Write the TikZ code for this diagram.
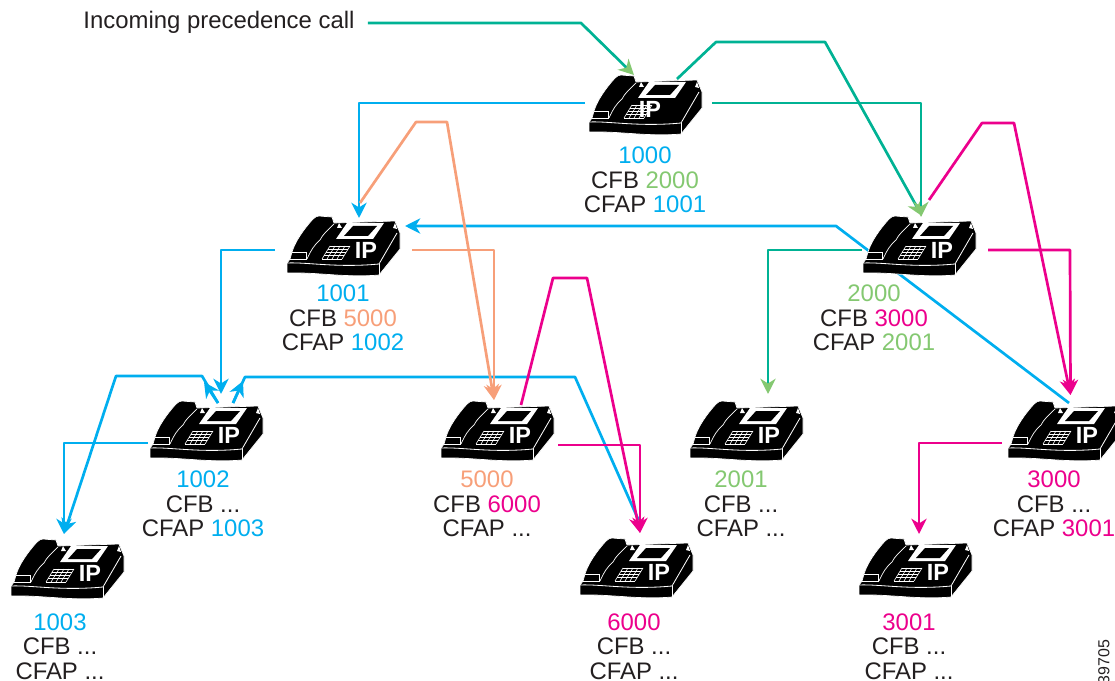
\documentclass[tikz,border=0pt]{standalone}
\usepackage{fontspec}
\setmainfont{Liberation Sans}
\usetikzlibrary{arrows.meta}
\definecolor{callblue}{HTML}{00AEEF}
\definecolor{callteal}{HTML}{00B294}
\definecolor{callpink}{HTML}{EC008C}
\definecolor{callsalmon}{HTML}{F79F79}
\definecolor{callgreen}{HTML}{84C871}
\definecolor{labelgray}{HTML}{231F20}
\newcommand{\numb}[1]{\textcolor{callblue}{#1}}
\newcommand{\numg}[1]{\textcolor{callgreen}{#1}}
\newcommand{\nump}[1]{\textcolor{callpink}{#1}}
\newcommand{\nums}[1]{\textcolor{callsalmon}{#1}}
\tikzset{
  pics/phonepic/.style={code={
    \begin{scope}[shift={(-56.5,-30)}]
    \fill[black, draw=white, line width=0.6pt] (26,3) .. controls (28,1) and (30,0) .. (32,0) -- (45,1) -- (47,7) -- (108,5) -- (113,17) -- (113,33) -- (92,59)
      .. controls (60,62) and (30,56) .. (0,57) -- (0,47) -- (3,43) -- (5,36) .. controls (8,26) and (16,14) .. (26,3) -- cycle;
    \fill[white] (60,7) -- (97,7) -- (86,23) -- (49,23) -- cycle;
    \fill[black] (66,10) -- (90,10) -- (81,20) -- (57,20) -- cycle;
    \fill[white] (50,12) -- (52,7) -- (55,12) -- cycle;
    \fill[white] (106,12) -- (108,7) -- (110,13) -- cycle;
    \draw[white, line width=0.6pt] (47,8) .. controls (40,15) and (36,18) .. (33,24) .. controls (28,28) and (24,34) .. (20,43);
    \draw[white, line width=0.6pt] (5,36) -- (19,36) -- (19,43) -- (3,43);
    \draw[white, line width=0.7pt] (0,47) .. controls (20,46) and (50,52) .. (92,48) -- (110,17);
    \draw[white, line width=0.7pt] (92,48) -- (92,59);
    \foreach \t in {0,0.25,0.5,0.75,1} {
      \draw[white, line width=0.5pt] ({35+8*\t},{43-13*\t}) -- ({55+8*\t},{43-13*\t});
      \draw[white, line width=0.5pt] ({35+20*\t},43) -- ({43+20*\t},30);
    }
    \node[text=white, inner sep=0, font=\fontsize{20}{20}\selectfont\bfseries] (ip) at (#1,34) {IP};
    \end{scope}
  }}
}
\begin{document}
\begin{tikzpicture}[x=0.03cm, y=-0.03cm,
    phone/.style={minimum width=3.39cm, minimum height=1.8cm, inner sep=0, outer sep=0},
    lbl/.style={align=center, inner sep=0, text=labelgray, font=\fontsize{20.4}{20.8}\selectfont},
    blueline/.style={draw=callblue, line width=2.3pt, line join=round, -{Stealth[length=13pt, width=13pt, inset=4pt]}},
    tealline/.style={draw=callteal, line width=2.3pt, line join=round, -{Stealth[length=13pt, width=13pt, inset=4pt, color=callgreen]}},
    pinkline/.style={draw=callpink, line width=2.3pt, line join=round, -{Stealth[length=13pt, width=13pt, inset=4pt]}},
    salmonline/.style={draw=callsalmon, line width=2.3pt, line join=round, -{Stealth[length=13pt, width=13pt, inset=4pt]}}]
    \path[use as bounding box, clip] (0,0) rectangle (1115,681);

    %Nodes
    \foreach \name/\x/\y in {p1000/645.5/105, p1001/343.5/246, p2000/919.5/246, p1002/206.5/431, p5000/497.5/431,
        p2001/746.5/431, p3000/1064.5/431, p1003/67.5/569, p6000/636.5/568, p3001/915.5/568}
      \node[phone] at (\x, \y) (\name) {};

    \node[lbl] at (219, 22) (incoming) {Incoming precedence call};
    \node[lbl] at (645, 180) (l1000) {\numb{1000}\\CFB \numg{2000}\\CFAP \numb{1001}};
    \node[lbl] at (343, 318) (l1001) {\numb{1001}\\CFB \nums{5000}\\CFAP \numb{1002}};
    \node[lbl] at (874, 318) (l2000) {\numg{2000}\\CFB \nump{3000}\\CFAP \numg{2001}};
    \node[lbl] at (203, 504) (l1002) {\numb{1002}\\CFB ...\\CFAP \numb{1003}};
    \node[lbl] at (487, 504) (l5000) {\nums{5000}\\CFB \nump{6000}\\CFAP ...};
    \node[lbl] at (741, 504) (l2001) {\numg{2001}\\CFB ...\\CFAP ...};
    \node[lbl] at (1054, 504) (l3000) {\nump{3000}\\CFB ...\\CFAP \nump{3001}};
    \node[lbl] at (60, 646.5) (l1003) {\numb{1003}\\CFB ...\\CFAP ...};
    \node[lbl] at (634, 646.5) (l6000) {\nump{6000}\\CFB ...\\CFAP ...};
    \node[lbl] at (909, 646.5) (l3001) {\nump{3001}\\CFB ...\\CFAP ...};
    \node[rotate=90, inner sep=0, text=labelgray, font=\fontsize{13.6}{14}\selectfont] at (1104, 662) (figno) {39705};

    %Lines
    \draw[tealline] ([shift={(13,1)}]incoming.east) -- (581, 23) -- ([shift={(-11.5,0)}]p1000.north);
    \draw[tealline] ([shift={(31.5,4)}]p1000.north) -- (716, 42) -- (825, 42) -- ([shift={(2.5,0)}]p2000.north);
    \draw[tealline] ([shift={(10,-2)}]p1000.east) -- (921, 103) -- ([shift={(1.5,1)}]p2000.north);
    \draw[tealline] ([shift={(-1,4)}]p2000.west) -- (768, 250) -- ([shift={(21.5,-7)}]p2001.north);
    \draw[blueline] ([shift={(-4,-2)}]p1000.west) -- (359, 103) -- ([shift={(15.5,2)}]p1001.north);
    \draw[blueline] ([shift={(4.5,2)}]p3000.north) -- (836, 226) -- ([shift={(5,-20)}]p1001.east);
    \draw[blueline] ([shift={(-12,4)}]p1001.west) -- (221, 250) -- ([shift={(14.5,-7)}]p1002.north);
    \draw[blueline] ([shift={(-2,12)}]p1002.west) -- (64, 443) -- ([shift={(-3.5,-5)}]p1003.north);
    \draw[blueline] ([shift={(11.5,2)}]p1002.north) -- (202, 376) -- (116, 376) -- ([shift={(-3.5,-5)}]p1003.north);
    \draw[blueline] ([shift={(11.5,2)}]p1002.north) -- (204, 382);
    \draw[blueline, -] ([shift={(26.5,2)}]p1002.north) -- (245, 377) -- (575, 377) -- ([shift={(2,-18)}]p6000.north);
    \draw[blueline] ([shift={(26.5,2)}]p1002.north) -- (243, 381);
    \draw[salmonline] ([shift={(16.5,-13)}]p1001.north) -- (416, 122) -- (447, 122) -- ([shift={(-3.5,-1)}]p5000.north);
    \draw[salmonline] ([shift={(12,4)}]p1001.east) -- (494, 250) -- ([shift={(-3.5,-1)}]p5000.north);
    \draw[pinkline] ([shift={(23.5,4)}]p5000.north) -- (553, 278) -- (587, 278) -- ([shift={(3.5,-5)}]p6000.north);
    \draw[pinkline] ([shift={(4,14)}]p5000.east) -- (640, 445) -- ([shift={(3.5,-5)}]p6000.north);
    \draw[pinkline] ([shift={(9.5,-16)}]p2000.north) -- (982, 123) -- (1014, 123) -- ([shift={(6,-6)}]p3000.north);
    \draw[pinkline] ([shift={(12,4)}]p2000.east) -- (1070, 250) -- ([shift={(6,-6)}]p3000.north);
    \draw[pinkline] ([shift={(-6,12)}]p3000.west) -- (919, 443) -- ([shift={(3.5,-4)}]p3001.north);

    %Phones
    \pic (g1000) at (p1000) {phonepic=61};
    \foreach \name in {p1001, p2000, p1002, p5000, p2001, p3000, p1003, p6000, p3001}
      \pic (g\name) at (\name) {phonepic=79};
\end{tikzpicture}
\end{document}
